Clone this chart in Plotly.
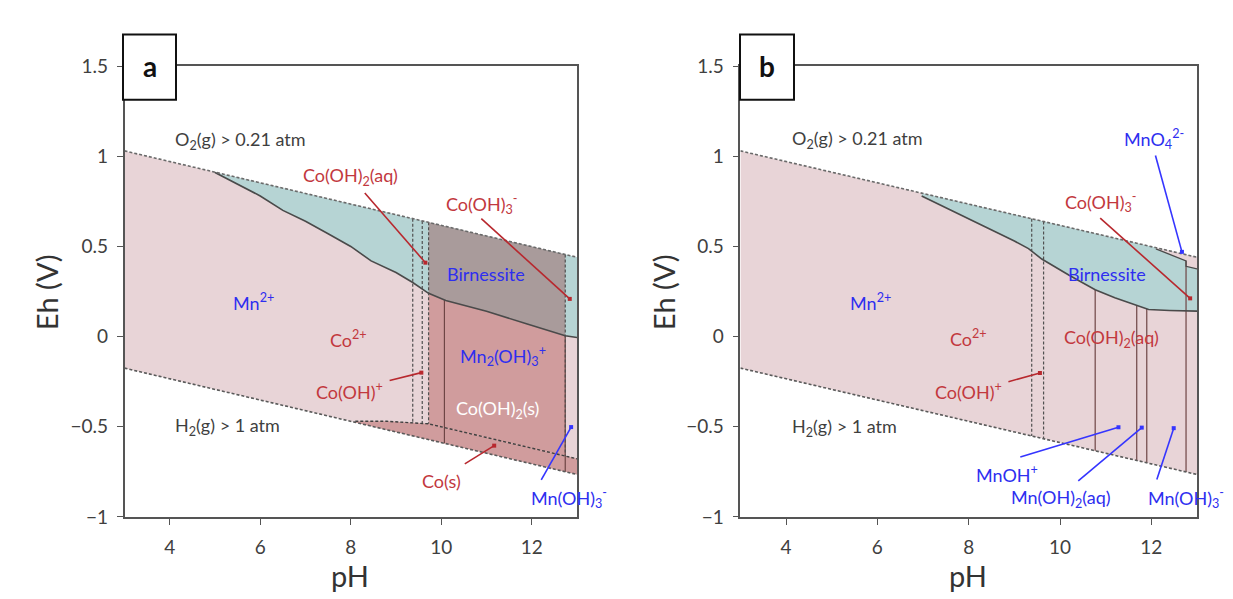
import numpy as np
import plotly.graph_objects as go

# ---------------- data ----------------
ph_edges = [3.0, 13.0]
o2_line = [1.03, 0.44]        # O2(g) = 0.21 atm boundary
h2_line = [-0.175, -0.765]    # H2(g) = 1 atm boundary

# panel a
birn_a_ph = [5.0, 5.3, 6.0, 6.5, 7.0, 7.5, 8.0, 8.45, 9.0, 9.37, 9.72, 10.1, 11.0, 11.9, 12.74, 13.0]
birn_a_eh = [0.91, 0.87, 0.78, 0.70, 0.64, 0.57, 0.50, 0.42, 0.355, 0.30, 0.24, 0.20, 0.14, 0.07, 0.005, -0.005]
cos_a_ph = [8.1, 8.8, 9.72, 13.0]
cos_a_eh = [-0.47, -0.47, -0.484, -0.678]
co_dashed_a = [9.37, 9.58, 9.72, 12.74]      # Co species boundaries (dashed)
mn_solid_a = [10.07, 12.74]                  # Mn species boundaries (solid)
cooh2s_a = [9.72, 12.74]                     # Co(OH)2(s) field

# panel b
birn_b_ph = [6.97, 7.5, 8.0, 8.5, 9.0, 9.31, 9.6, 10.2, 10.77, 11.2, 11.68, 11.94, 12.4, 12.76, 13.0]
birn_b_eh = [0.78, 0.715, 0.65, 0.59, 0.53, 0.488, 0.43, 0.34, 0.26, 0.215, 0.17, 0.15, 0.145, 0.141, 0.141]
mno4_b_ph = [12.1, 12.76, 12.76, 13.0]
mno4_b_eh = [0.486, 0.42, 0.39, 0.375]
co_dashed_b = [9.38, 9.64]
mn_solid_b = [10.77, 11.68, 11.9]
mn_solid_b_top = [12.76]

x_ticks = [4, 6, 8, 10, 12]
y_ticks = [-1, -0.5, 0, 0.5, 1, 1.5]
y_tick_text = ["\u22121", "\u22120.5", "0", "0.5", "1", "1.5"]

# labels: (text, pH, Eh, colour, anchor)
RED = "#c2383e"
BLUE = "#2e2ef0"
GREY = "#3f3f3f"
labels_a = [
    ("O<sub>2</sub>(g) &gt; 0.21 atm", 4.07, 1.09, GREY, "left"),
    ("Co(OH)<sub>2</sub>(aq)", 8.0, 0.887, RED, "center"),
    ("Co(OH)<sub>3</sub><sup>-</sup>", 10.9, 0.737, RED, "center"),
    ("Birnessite", 10.98, 0.348, BLUE, "center"),
    ("Mn<sup>2+</sup>", 5.84, 0.193, BLUE, "center"),
    ("Co<sup>2+</sup>", 7.94, -0.015, RED, "center"),
    ("Co(OH)<sup>+</sup>", 7.98, -0.303, RED, "center"),
    ("Mn<sub>2</sub>(OH)<sub>3</sub><sup>+</sup>", 11.36, -0.11, BLUE, "center"),
    ("Co(OH)<sub>2</sub>(s)", 11.25, -0.404, "#ffffff", "center"),
    ("H<sub>2</sub>(g) &gt; 1 atm", 4.07, -0.5, GREY, "left"),
    ("Co(s)", 10.0, -0.8, RED, "center"),
    ("Mn(OH)<sub>3</sub><sup>-</sup>", 12.82, -0.895, BLUE, "center"),
]
labels_b = [
    ("O<sub>2</sub>(g) &gt; 0.21 atm", 4.09, 1.094, GREY, "left"),
    ("MnO<sub>4</sub><sup>2-</sup>", 12.05, 1.094, BLUE, "center"),
    ("Co(OH)<sub>3</sub><sup>-</sup>", 10.89, 0.748, RED, "center"),
    ("Birnessite", 11.02, 0.347, BLUE, "center"),
    ("Mn<sup>2+</sup>", 5.84, 0.193, BLUE, "center"),
    ("Co<sup>2+</sup>", 7.99, -0.01, RED, "center"),
    ("Co(OH)<sup>+</sup>", 7.99, -0.304, RED, "center"),
    ("Co(OH)<sub>2</sub>(aq)", 11.12, -0.01, RED, "center"),
    ("H<sub>2</sub>(g) &gt; 1 atm", 4.09, -0.506, GREY, "left"),
    ("MnOH<sup>+</sup>", 8.83, -0.763, BLUE, "center"),
    ("Mn(OH)<sub>2</sub>(aq)", 10.01, -0.896, BLUE, "center"),
    ("Mn(OH)<sub>3</sub><sup>-</sup>", 12.76, -0.896, BLUE, "center"),
]
# pointer lines: (pH0, Eh0, pH1, Eh1, colour)
ARED = "#b8282e"
ABLUE = "#3535ff"
pointers_a = [
    (8.31, 0.796, 9.65, 0.41, ARED),
    (10.885, 0.654, 12.84, 0.209, ARED),
    (8.86, -0.244, 9.56, -0.2, ARED),
    (10.52, -0.706, 11.17, -0.605, ARED),
    (12.21, -0.795, 12.87, -0.502, ABLUE),
]
pointers_b = [
    (12.09, 1.004, 12.67, 0.47, ABLUE),
    (10.88, 0.657, 12.85, 0.212, ARED),
    (8.87, -0.25, 9.56, -0.202, ARED),
    (9.13, -0.668, 11.28, -0.503, ABLUE),
    (10.40, -0.80, 11.79, -0.505, ABLUE),
    (12.12, -0.793, 12.49, -0.508, ABLUE),
]

# ---------------- helpers ----------------
PINK = "#e8d4d7"
TEAL = "#b6d4d4"
DARK = "#a99b9b"
CORED = "#d09c9d"


def seg(xs, ys, a, b):
    """boundary from pH a to pH b (inclusive) along a polyline"""
    xs = np.asarray(xs, float)
    ys = np.asarray(ys, float)
    inner = [(x, y) for x, y in zip(xs, ys) if a < x < b]
    pts = [(a, float(np.interp(a, xs, ys)))] + inner + [(b, float(np.interp(b, xs, ys)))]
    return [p[0] for p in pts], [p[1] for p in pts]


def at(xs, ys, a):
    return float(np.interp(a, xs, ys))


def poly(fig, top, bottom, a, b, color, xa, ya):
    tx, ty = seg(top[0], top[1], a, b)
    bx, by = seg(bottom[0], bottom[1], a, b)
    fig.add_trace(go.Scatter(x=tx + bx[::-1], y=ty + by[::-1], fill="toself",
                             fillcolor=color, mode="lines", line=dict(width=0),
                             hoverinfo="skip", showlegend=False, xaxis=xa, yaxis=ya))


def line(fig, xs, ys, xa, ya, color="#555555", width=1.3, dash="solid"):
    fig.add_trace(go.Scatter(x=list(xs), y=list(ys), mode="lines",
                             line=dict(color=color, width=width, dash=dash),
                             hoverinfo="skip", showlegend=False, xaxis=xa, yaxis=ya))


def vline(fig, ph, top, bottom, xa, ya, color, dash, width=1.2):
    line(fig, [ph, ph], [at(top[0], top[1], ph), at(bottom[0], bottom[1], ph)],
         xa, ya, color=color, width=width, dash=dash)


fig = go.Figure()
O2 = (ph_edges, o2_line)
H2 = (ph_edges, h2_line)

# ---------------- panel a ----------------
xa, ya = "x", "y"
BA = (birn_a_ph, birn_a_eh)
CA = (cos_a_ph, cos_a_eh)
poly(fig, O2, H2, 3, 13, PINK, xa, ya)
poly(fig, O2, BA, birn_a_ph[0], 13, TEAL, xa, ya)
poly(fig, O2, BA, cooh2s_a[0], cooh2s_a[1], DARK, xa, ya)
poly(fig, BA, CA, cooh2s_a[0], cooh2s_a[1], CORED, xa, ya)
poly(fig, CA, H2, cos_a_ph[0], 13, CORED, xa, ya)
for ph in mn_solid_a:
    vline(fig, ph, BA, H2, xa, ya, "#6e4545", "solid")
for ph in co_dashed_a:
    vline(fig, ph, O2, CA, xa, ya, "#505050", "3px,2px")
line(fig, birn_a_ph, birn_a_eh, xa, ya, color="#4a4a4a", width=1.6)
line(fig, cos_a_ph, cos_a_eh, xa, ya, color="#404040", width=1.4, dash="3px,2px")
line(fig, ph_edges, o2_line, xa, ya, color="#6a6a6a", width=1.6, dash="3px,2px")
line(fig, ph_edges, h2_line, xa, ya, color="#5a5a5a", width=1.6, dash="3px,2px")

# ---------------- panel b ----------------
xb, yb = "x2", "y2"
BB = (birn_b_ph, birn_b_eh)
MB = (mno4_b_ph, mno4_b_eh)
poly(fig, O2, H2, 3, 13, PINK, xb, yb)
poly(fig, O2, BB, birn_b_ph[0], 13, TEAL, xb, yb)
poly(fig, O2, MB, mno4_b_ph[0], 13, PINK, xb, yb)
for ph in co_dashed_b:
    vline(fig, ph, O2, H2, xb, yb, "#505050", "3px,2px")
for ph in mn_solid_b:
    vline(fig, ph, BB, H2, xb, yb, "#6e4545", "solid")
for ph in mn_solid_b_top:
    line(fig, [ph, ph], [mno4_b_eh[1], at(ph_edges, h2_line, ph)], xb, yb,
         color="#6e4545", width=1.2)
line(fig, birn_b_ph, birn_b_eh, xb, yb, color="#4a4a4a", width=1.6)
line(fig, mno4_b_ph, mno4_b_eh, xb, yb, color="#4a4a4a", width=1.3)
line(fig, ph_edges, o2_line, xb, yb, color="#6a6a6a", width=1.6, dash="3px,2px")
line(fig, ph_edges, h2_line, xb, yb, color="#5a5a5a", width=1.6, dash="3px,2px")

# ---------------- pointers & labels ----------------
annotations = []
FONT = "Lato"
for pts, labs, xr, yr in [(pointers_a, labels_a, xa, ya), (pointers_b, labels_b, xb, yb)]:
    for x0, y0, x1, y1, c in pts:
        fig.add_trace(go.Scatter(x=[x0, x1], y=[y0, y1], mode="lines",
                                 line=dict(color=c, width=1.6), hoverinfo="skip",
                                 showlegend=False, xaxis=xr, yaxis=yr, cliponaxis=False))
        fig.add_trace(go.Scatter(x=[x1], y=[y1], mode="markers",
                                 marker=dict(color=c, size=4, symbol="square"),
                                 hoverinfo="skip", showlegend=False, xaxis=xr, yaxis=yr,
                                 cliponaxis=False))
    for text, px, py, c, anc in labs:
        annotations.append(dict(text=text, x=px, y=py, xref=xr, yref=yr, showarrow=False,
                                xanchor=anc, yanchor="middle",
                                font=dict(family=FONT, size=18, color=c)))

W, H = 1233, 599
# axis titles
for txt, x, y, ang in [("Eh (V)", 38, 283, -90), ("pH", 342, 578, 0),
                       ("Eh (V)", 655, 283, -90), ("pH", 960, 578, 0)]:
    annotations.append(dict(text=txt, x=x / W, y=1 - y / H, xref="paper", yref="paper",
                            showarrow=False, textangle=ang, xanchor="center", yanchor="middle",
                            font=dict(family=FONT, size=29, color="#333333")))
# panel letters
shapes = []
for letter, x0, x1 in [("a", 115, 168), ("b", 732, 786)]:
    shapes.append(dict(type="rect", xref="paper", yref="paper",
                       x0=x0 / W, x1=x1 / W, y0=1 - 83 / H, y1=1 - 15 / H,
                       line=dict(color="#111111", width=2), fillcolor="white", layer="above"))
    annotations.append(dict(text="<b>%s</b>" % letter, x=(x0 + x1) / 2 / W, y=1 - 48 / H,
                            xref="paper", yref="paper", showarrow=False,
                            xanchor="center", yanchor="middle",
                            font=dict(family=FONT, size=28, color="#111111")))

axis_common = dict(showline=True, mirror=True, linecolor="#555555", linewidth=1.5,
                   ticks="outside", ticklen=6, tickcolor="#555555", tickwidth=1.3,
                   showgrid=False, zeroline=False,
                   tickfont=dict(family=FONT, size=19, color="#404040"))
xdom_a = [116.5 / W, 569 / W]
xdom_b = [732.4 / W, 1189 / W]
ydom = [1 - 516.7 / H, 1 - 48 / H]

fig.update_layout(
    width=W, height=H, margin=dict(l=0, r=0, t=0, b=0),
    paper_bgcolor="white", plot_bgcolor="white",
    xaxis=dict(domain=xdom_a, range=[3, 13], tickvals=x_ticks, anchor="y",
               ticklabelstandoff=7, **axis_common),
    yaxis=dict(domain=ydom, range=[-1, 1.5], tickvals=y_ticks, ticktext=y_tick_text,
               anchor="x", ticklabelstandoff=5, **axis_common),
    xaxis2=dict(domain=xdom_b, range=[3, 13], tickvals=x_ticks, anchor="y2",
                ticklabelstandoff=7, **axis_common),
    yaxis2=dict(domain=ydom, range=[-1, 1.5], tickvals=y_ticks, ticktext=y_tick_text,
                anchor="x2", ticklabelstandoff=5, **axis_common),
    annotations=annotations, shapes=shapes,
)

fig.write_html("out.html")
